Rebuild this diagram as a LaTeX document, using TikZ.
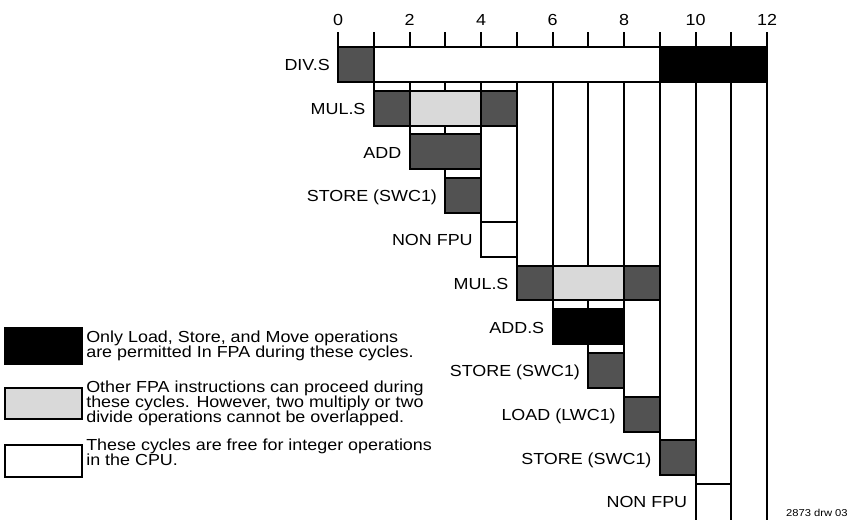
\documentclass[tikz,border=0pt]{standalone}
\usepackage{fontspec}
\setmainfont{Liberation Sans}
\newcommand\chartfont{\fontsize{12}{11}\selectfont\lineskiplimit=-\maxdimen}

\tikzset{
  cell/.style={draw, line width=1.5pt},
  darkcell/.style={cell, fill=black!68},
  lightcell/.style={cell, fill=black!15},
  blackcell/.style={cell, fill=black},
  freecell/.style={cell, fill=white},
  rule/.style={line width=1.5pt},
  wide/.style={xscale=1.12, inner sep=0pt, font=\chartfont},
  rowlabel/.style={wide, anchor=base east},
  ticklabel/.style={wide, anchor=base},
  legtext/.style={wide, anchor=north west, align=left},
}

\begin{document}
\begin{tikzpicture}[x=0.75pt,y=-0.75pt]
\clip (0,0) rectangle (852,519);
\begin{scope}[shift={(338,47)},x=26.8125pt,y=-32.775pt]
% cycle scale
\foreach \i in {0,...,12} \draw[rule] (\i,-0.34) -- (\i,0);
\foreach \i in {0,2,...,12} \node[ticklabel] (t\i) at (\i,-0.5) {\i};
% column rules (free cycles)
\foreach \j in {1,...,9} \draw[rule] (\j,0) -- (\j,\j+0.8);
\foreach \j in {10,11,12} \draw[rule] (\j,0) -- (\j,11.5);
% DIV.S
\draw[darkcell] (0,0) rectangle (1,0.8);
\draw[freecell] (1,0) rectangle (9,0.8);
\draw[blackcell] (9,0) rectangle (12,0.8);
% MUL.S
\draw[darkcell] (1,1) rectangle (2,1.8);
\draw[lightcell] (2,1) rectangle (4,1.8);
\draw[darkcell] (4,1) rectangle (5,1.8);
% ADD
\draw[darkcell] (2,2) rectangle (4,2.8);
% STORE
\draw[darkcell] (3,3) rectangle (4,3.8);
% NON FPU
\draw[freecell] (4,4) rectangle (5,4.8);
% MUL.S
\draw[darkcell] (5,5) rectangle (6,5.8);
\draw[lightcell] (6,5) rectangle (8,5.8);
\draw[darkcell] (8,5) rectangle (9,5.8);
% ADD.S
\draw[blackcell] (6,6) rectangle (8,6.8);
% STORE
\draw[darkcell] (7,7) rectangle (8,7.8);
% LOAD
\draw[darkcell] (8,8) rectangle (9,8.8);
% STORE
\draw[darkcell] (9,9) rectangle (10,9.8);
% NON FPU
\draw[freecell] (10,10) rectangle (11,11.5);
% row names
\node[rowlabel] (r0) at (-0.224,0.545) {DIV.S};
\node[rowlabel] (r1) at (0.776,1.545) {MUL.S};
\node[rowlabel] (r2) at (1.776,2.545) {ADD};
\node[rowlabel] (r3) at (2.776,3.545) {STORE (SWC1)};
\node[rowlabel] (r4) at (3.776,4.545) {NON FPU};
\node[rowlabel] (r5) at (4.776,5.545) {MUL.S};
\node[rowlabel] (r6) at (5.776,6.545) {ADD.S};
\node[rowlabel] (r7) at (6.776,7.545) {STORE (SWC1)};
\node[rowlabel] (r8) at (7.776,8.545) {LOAD (LWC1)};
\node[rowlabel] (r9) at (8.776,9.545) {STORE (SWC1)};
\node[rowlabel] (r10) at (9.776,10.545) {NON FPU};
\end{scope}
% legend
\draw[blackcell,line width=1.2pt] (5,328) rectangle (82,364);
\node[legtext] (leg1) at (86,331) {Only Load, Store, and Move operations\\are permitted In FPA during these cycles.};
\draw[lightcell,line width=1.2pt] (5,388) rectangle (82,419);
\node[legtext] (leg2) at (86,381) {Other FPA instructions can proceed during\\these cycles. However, two multiply or two\\divide operations cannot be overlapped.};
\draw[freecell,line width=1.2pt] (5,445) rectangle (82,477);
\node[legtext] (leg3) at (86,439) {These cycles are free for integer operations\\in the CPU.};
\node[anchor=base east, inner sep=0pt, xscale=1.12, font=\fontsize{7.5}{9}\selectfont] (drw) at (848,516) {2873 drw 03};
\end{tikzpicture}
\end{document}
